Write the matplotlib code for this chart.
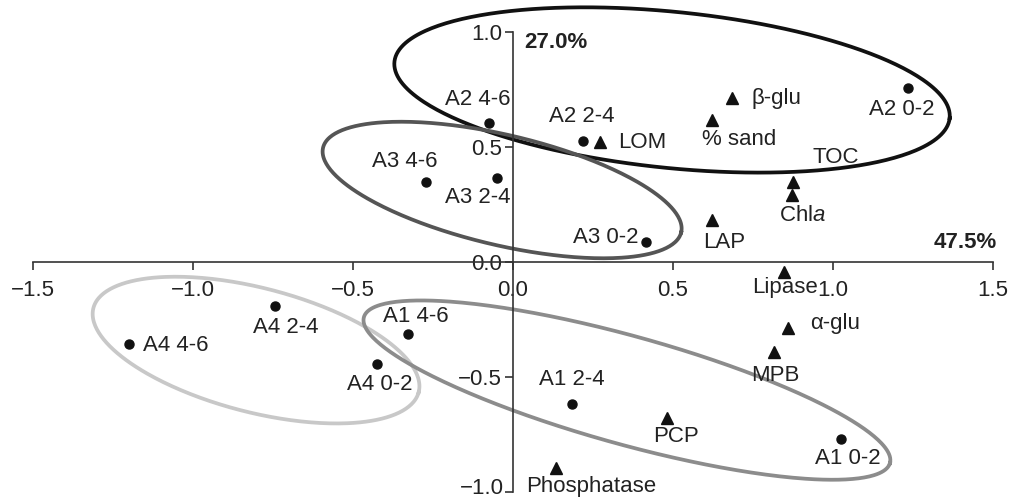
import numpy as np
import matplotlib
matplotlib.use("Agg")
import matplotlib.pyplot as plt

plt.rcParams['font.family'] = ['Liberation Sans', 'DejaVu Sans']
plt.rcParams['mathtext.fontset'] = 'custom'
plt.rcParams['mathtext.rm'] = 'Liberation Sans'
plt.rcParams['mathtext.it'] = 'Liberation Sans:italic'

# sites (dots)
site_names = ["A2 0-2", "A2 2-4", "A2 4-6", "A3 0-2", "A3 2-4", "A3 4-6",
              "A4 0-2", "A4 2-4", "A4 4-6", "A1 0-2", "A1 2-4", "A1 4-6"]
site_x = [1.234, 0.219, -0.075, 0.416, -0.050, -0.272,
          -0.425, -0.744, -1.200, 1.025, 0.184, -0.328]
site_y = [0.757, 0.526, 0.604, 0.087, 0.365, 0.348,
          -0.443, -0.191, -0.357, -0.770, -0.617, -0.313]

# variables (triangles)
var_names = ["β-glu", "% sand", "LOM", "TOC", "Chl$a$", "LAP",
             "Lipase", "α-glu", "MPB", "PCP", "Phosphatase"]
var_x = [0.684, 0.622, 0.272, 0.875, 0.872, 0.622, 0.847, 0.859, 0.816, 0.481, 0.134]
var_y = [0.713, 0.617, 0.522, 0.348, 0.291, 0.183, -0.043, -0.287, -0.391, -0.678, -0.896]

ticks_x = [-1.5, -1.0, -0.5, 0.0, 0.5, 1.0, 1.5]
ticks_y = [-1.0, -0.5, 0.0, 0.5, 1.0]
pct_x = "47.5%"
pct_y = "27.0%"

# label placement: (dx px, dy px, ha)
site_off = [(-6, -22, 'center'), (-1, 25, 'center'), (-11, 24, 'center'),
            (-8, 4, 'right'), (-19, -19, 'center'), (-21, 20, 'center'),
            (3, -21, 'center'), (11, -22, 'center'), (14, -1, 'left'),
            (7, -19, 'center'), (0, 24, 'center'), (8, 17, 'center')]
var_off = [(20, 0, 'left'), (27, -19, 'center'), (18, -1, 'left'),
           (43, 24, 'center'), (10, -20, 'center'), (12, -23, 'center'),
           (1, -16, 'center'), (22, 5, 'left'), (1, -24, 'center'),
           (9, -19, 'center'), (-30, -18, 'left')]

# group ellipses: centre, semi-axes (x units), tilt (deg), colour
ell_cx = [0.497, -0.034, -0.803, 0.356]
ell_cy = [0.748, 0.313, -0.383, -0.557]
ell_a = [0.872, 0.575, 0.525, 0.853]
ell_b = [0.244, 0.172, 0.194, 0.169]
ell_ang = [-5.8, -13.3, -14.5, -15.5]
ell_col = ['#111111', '#555555', '#c8c8c8', '#8c8c8c']

ASPECT = 320 / 230  # px per x-unit / px per y-unit
FS = 16

fig = plt.figure(figsize=(10.11, 5.01), dpi=100)
ax = fig.add_axes([0, 0, 1, 1])
ax.set_xlim(-513 / 320, 498 / 320)
ax.set_ylim(-239 / 230, 262 / 230)

t = np.linspace(0, 2 * np.pi, 400)
for cx, cy, a, b, ang, col in zip(ell_cx, ell_cy, ell_a, ell_b, ell_ang, ell_col):
    th = np.radians(ang)
    u = a * np.cos(t)
    v = b * np.sin(t)
    xs = cx + u * np.cos(th) - v * np.sin(th)
    ys = cy + (u * np.sin(th) + v * np.cos(th)) * ASPECT
    ax.plot(xs, ys, color=col, lw=2.7, zorder=2)

ax.plot(site_x, site_y, 'o', color='#111111', ms=6.5, ls='none', zorder=4)
ax.plot(var_x, var_y, '^', color='#111111', ms=9, ls='none', zorder=4)

for name, x, y, (dx, dy, ha) in zip(site_names, site_x, site_y, site_off):
    ax.annotate(name, (x, y), xytext=(dx, dy), textcoords='offset pixels',
                ha=ha, va='center', fontsize=FS, color='#222222', zorder=5)
for name, x, y, (dx, dy, ha) in zip(var_names, var_x, var_y, var_off):
    ax.annotate(name, (x, y), xytext=(dx, dy), textcoords='offset pixels',
                ha=ha, va='center', fontsize=FS, color='#222222', zorder=5)

ax.spines['left'].set_position(('data', 0))
ax.spines['bottom'].set_position(('data', 0))
ax.spines['top'].set_visible(False)
ax.spines['right'].set_visible(False)
ax.spines['left'].set_bounds(-1, 1)
ax.spines['bottom'].set_bounds(-1.5, 1.5)
for s in ['left', 'bottom']:
    ax.spines[s].set_color('#333333')
    ax.spines[s].set_linewidth(1.2)

fmt = lambda v: f"{v:.1f}".replace('-', '\u2212')
ax.set_xticks(ticks_x)
ax.set_xticklabels([fmt(v) for v in ticks_x])
ax.set_yticks(ticks_y)
# lowest y label sits at the figure edge, drawn a touch higher below
ax.set_yticklabels([''] + [fmt(v) for v in ticks_y[1:]])
ax.annotate(fmt(ticks_y[0]), (0, ticks_y[0]), xytext=(-9, 3),
            textcoords='offset pixels', ha='right', va='center',
            fontsize=FS, color='#222222')
ax.tick_params(axis='x', direction='out', length=6, width=1.2, color='#333333',
               labelsize=FS, pad=7, labelcolor='#222222')
ax.tick_params(axis='y', direction='out', length=6, width=1.2, color='#333333',
               labelsize=FS, pad=2, labelcolor='#222222')

ax.text((524 - 513) / 320, (262 - 43) / 230, pct_y, fontsize=FS,
        fontweight='bold', ha='left', va='center', color='#222222')
ax.text((997 - 513) / 320, (262 - 243) / 230, pct_x, fontsize=FS,
        fontweight='bold', ha='right', va='center', color='#222222')

fig.savefig("out.png", dpi=100)
